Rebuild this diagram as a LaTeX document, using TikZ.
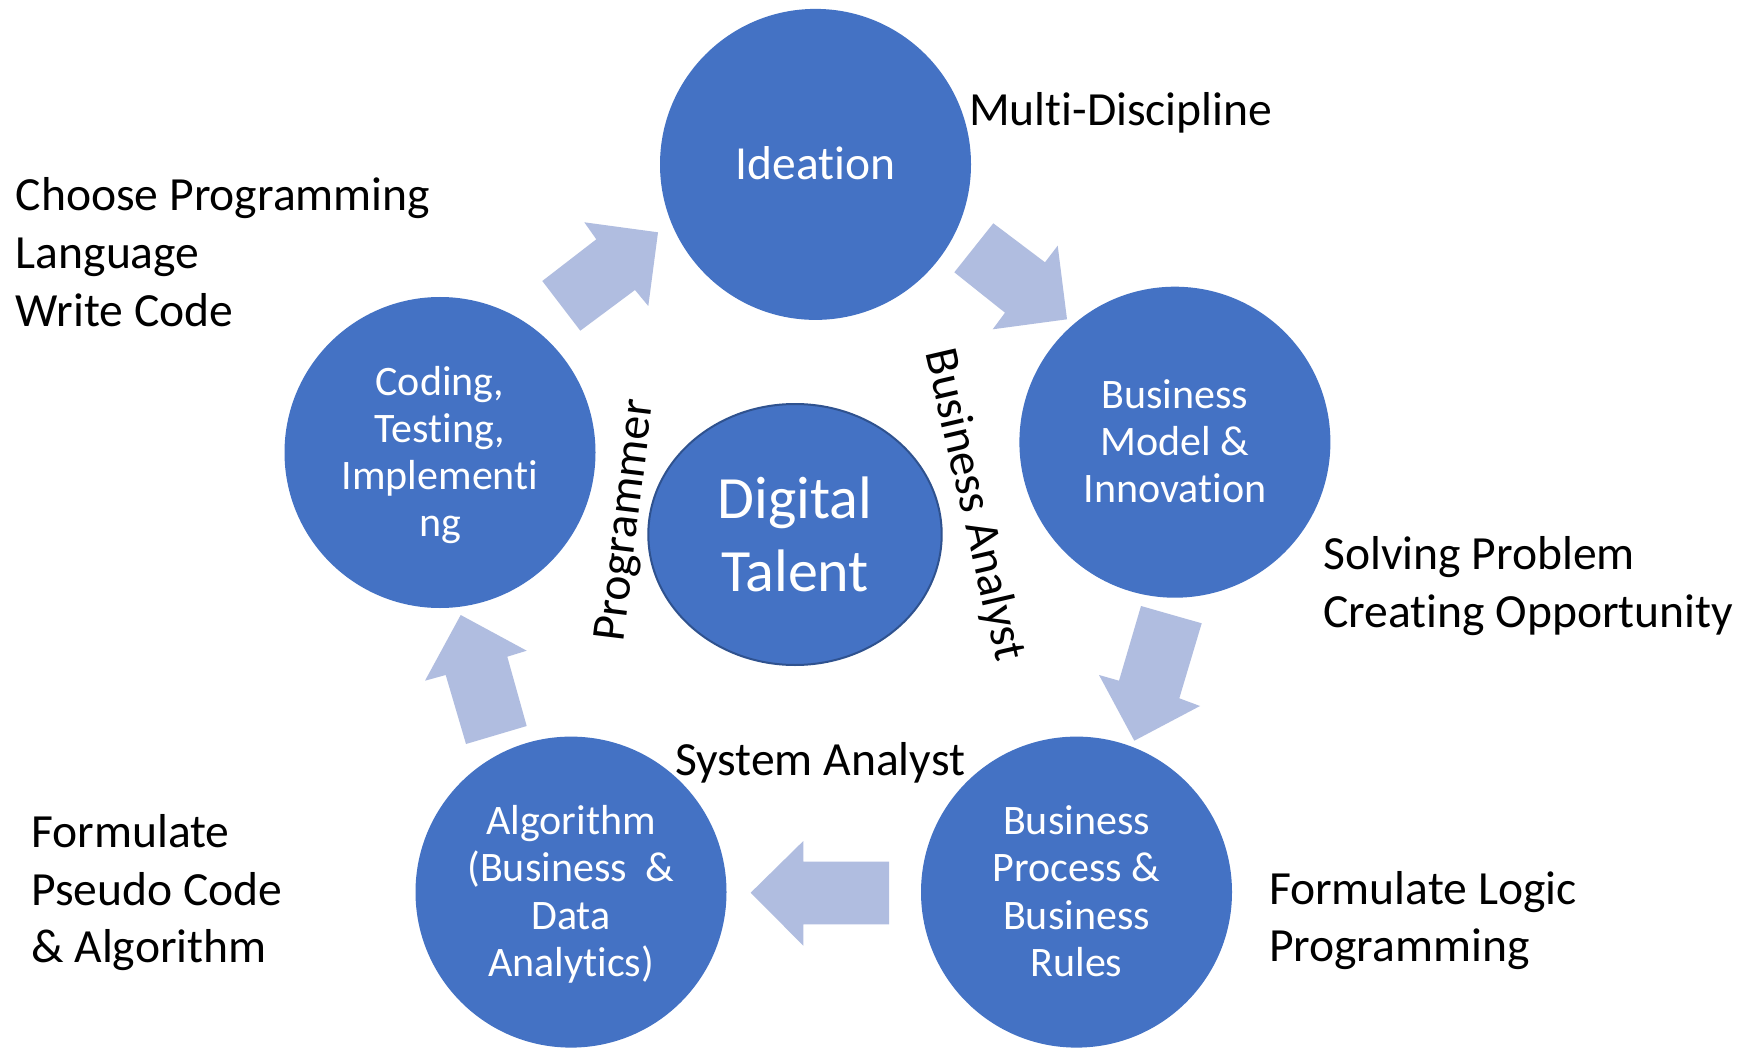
\documentclass[tikz,border=0pt]{standalone}
\usepackage{fontspec}
\setmainfont{Carlito}[Ligatures={NoCommon,NoContextual}, RawFeature={-liga;-clig;-calt;-dlig}]
\usetikzlibrary{shapes.geometric}
\definecolor{circblue}{HTML}{4472C4}
\definecolor{ellborder}{HTML}{2F528F}
\definecolor{arrowblue}{RGB}{176,189,224}
\newcommand{\labfont}{\fontsize{47.6}{57.8}\selectfont}
\newcommand{\circfont}{\fontsize{42}{47.2}\selectfont}
\newcommand{\ideafont}{\fontsize{47.5}{57.8}\selectfont}
\newcommand{\talentfont}{\fontsize{60}{73.3}\selectfont}
\newcommand{\mystrut}[2]{\vrule height #1pt depth #2pt width 0pt\relax}
\newcommand{\cs}{\mystrut{37.05}{10.15}}
\newcommand{\ts}{\mystrut{57}{16.3}}
\begin{document}
\begin{tikzpicture}[x=1pt,y=-1pt,
  stage/.style={circle, fill=circblue, minimum size=311pt, inner sep=0pt, text=white, align=center, font=\circfont},
  lab/.style={anchor=north west, inner sep=0pt, align=left, font=\labfont},
  rolelab/.style={inner sep=0pt, font=\labfont, anchor=base},
  cyclearrow/.style={fill=arrowblue}]
\useasboundingbox[fill=white] (0,0) rectangle (1742,1048);

% stages
\node[stage, font=\ideafont] (idea) at (815.5,164.4) {\mystrut{43.8}{14}Ideation};
\node[stage] (bmodel) at (1174.9,442.2) {\cs Business\\\cs Model \&\\\cs Innovation};
\node[stage] (bproc) at (1076.5,892.1) {\cs Business\\\cs Process \&\\\cs Business\\\cs Rules};
\node[stage] (algo) at (571,892.1) {\cs Algorithm\\\cs (Business\ \ \&\\\cs Data\\\cs Analytics)};
\node[stage] (coding) at (440,452.5) {\cs Coding,\\\cs Testing,\\\cs Implementi\\\cs ng};
\node[ellipse, fill=circblue, draw=ellborder, line width=2pt, minimum width=293.4pt, minimum height=261pt, inner sep=0pt, text=white, align=center, font=\talentfont] (talent) at (795,534.5) {\ts Digital\\\ts Talent};

% cycle arrows
\fill[cyclearrow] (542.3,281) -- (596.3,239.3) -- (584.3,222.3) -- (658,232.3) -- (648.3,306) -- (635,290) -- (580.3,330.7) -- cycle;
\fill[cyclearrow] (993.3,223.3) -- (1045,262.3) -- (1057.7,245.7) -- (1067,319.3) -- (992.7,329.3) -- (1005,312.7) -- (954.3,272.3) -- cycle;
\fill[cyclearrow] (1141,606) -- (1201.7,623.3) -- (1179.3,698.3) -- (1200,706) -- (1134.3,740.7) -- (1099,675) -- (1119,680.7) -- cycle;
\fill[cyclearrow] (889,861.7) -- (803.3,861.7) -- (803.3,841) -- (750.7,892.7) -- (803.3,945.7) -- (803.3,924.3) -- (889,924.3) -- cycle;
\fill[cyclearrow] (460.7,615) -- (526.7,650.7) -- (507.3,656.7) -- (526.7,726) -- (466,744) -- (445.7,675) -- (425,680.7) -- cycle;

% labels
\node[lab] (choose) at (15.6,170) {\strut Choose Programming\\\strut Language\\\strut Write Code};
\node[rolelab, anchor=base west] (multi) at (968.8,126) {Multi-Discipline};
\node[lab] (solving) at (1323,529) {\strut Solving Problem\\\strut Creating Opportunity};
\node[lab] (logic) at (1268.8,863.4) {\strut Formulate Logic\\\strut Programming};
\node[lab] (pseudo) at (31.1,806.7) {\strut Formulate\\\strut Pseudo Code\\\strut \& Algorithm};
\node[rolelab, anchor=base west] (sysan) at (675,775) {System Analyst};
\node[rolelab, rotate=83] (prog) at (638,522) {Programmer};
\node[rolelab, rotate=-77] (busan) at (961,508) {Business Analyst};
\end{tikzpicture}
\end{document}
